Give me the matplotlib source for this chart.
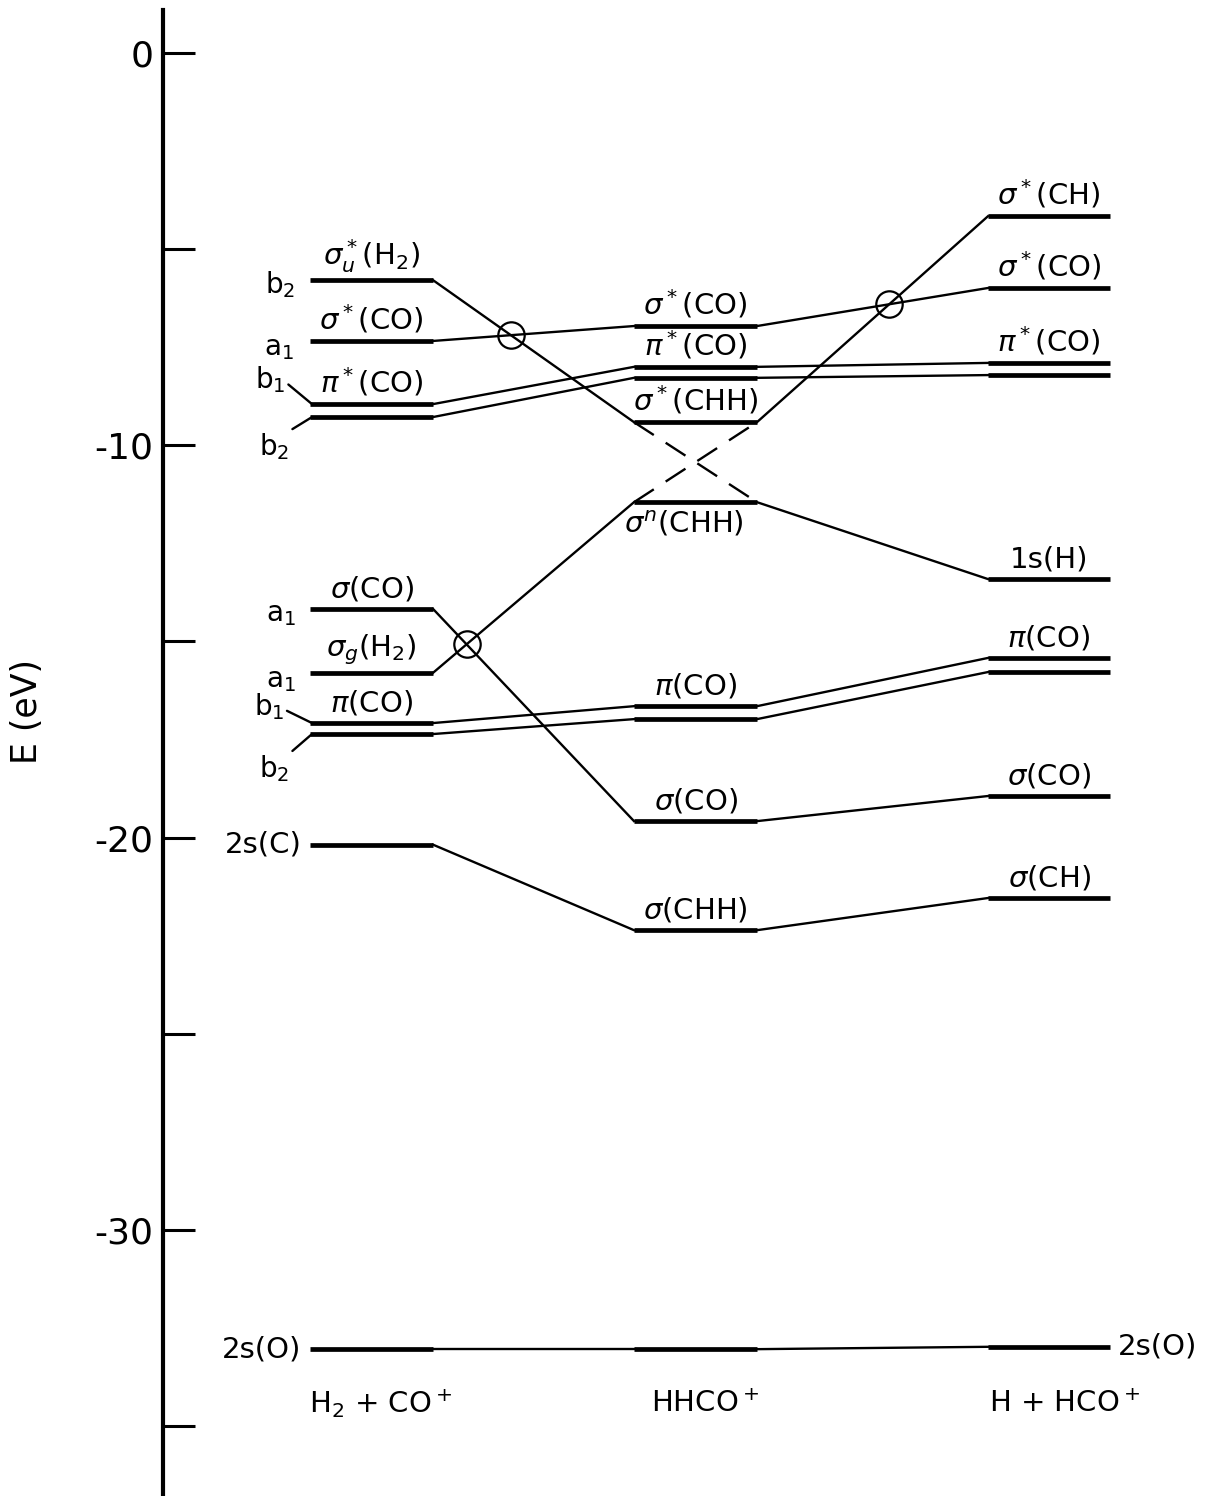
import matplotlib
matplotlib.use("Agg")
import matplotlib.pyplot as plt

# stages along the reaction path
stages = [r"H$_2$ + CO$^+$", r"HHCO$^+$", r"H + HCO$^+$"]

# orbital energies (eV), top to bottom in each column
left_E = [-5.79, -7.34, -8.95, -9.28, -14.17, -15.80, -17.08, -17.36, -20.18, -33.04]
left_lab = [r"$\sigma^*_u$(H$_2$)", r"$\sigma^*$(CO)", r"$\pi^*$(CO)", "",
            r"$\sigma$(CO)", r"$\sigma_g$(H$_2$)", r"$\pi$(CO)", "", "2s(C)", "2s(O)"]
left_sym = [r"b$_2$", r"a$_1$", r"b$_1$", r"b$_2$", r"a$_1$", r"a$_1$", r"b$_1$", r"b$_2$", "", ""]

mid_E = [-6.96, -8.00, -8.28, -9.41, -11.45, -16.65, -16.98, -19.58, -22.36, -33.04]
mid_lab = [r"$\sigma^*$(CO)", r"$\pi^*$(CO)", "", r"$\sigma^*$(CHH)", r"$\sigma^n$(CHH)",
           r"$\pi$(CO)", "", r"$\sigma$(CO)", r"$\sigma$(CHH)", ""]

right_E = [-4.16, -5.99, -7.90, -8.21, -13.41, -15.42, -15.78, -18.94, -21.54, -32.98]
right_lab = [r"$\sigma^*$(CH)", r"$\sigma^*$(CO)", r"$\pi^*$(CO)", "", "1s(H)",
             r"$\pi$(CO)", "", r"$\sigma$(CO)", r"$\sigma$(CH)", "2s(O)"]

# correlation lines (index in one column -> index in next column)
left_to_mid = [(0, 3), (1, 0), (2, 1), (3, 2), (4, 7), (5, 4), (6, 5), (7, 6), (8, 8), (9, 9)]
mid_to_right = [(0, 1), (1, 2), (2, 3), (3, 0), (4, 4), (5, 5), (6, 6), (7, 7), (8, 8), (9, 9)]
mid_dashed = [(3, 4), (4, 3)]  # avoided crossing inside HHCO+
# crossings marked with a circle: (which gap, connection a, connection b)
crossings = [(0, 0, 1), (0, 4, 5), (1, 0, 3)]

# ---- layout (pixel-like x units, energy on y) ----
PX = 39.23          # pixels per eV
Y0 = 53             # pixel row of E = 0
cols_x = [(310, 433), (634, 757), (988, 1110)]
LW_LEVEL, LW_LINK = 3.4, 1.7
FS = 21

fig = plt.figure(figsize=(12.21, 14.96), dpi=100)
ax = fig.add_axes([0, 0, 1, 1])
ax.set_xlim(0, 1221)
ax.set_ylim(-(1496 - Y0) / PX, Y0 / PX)
for s in ("top", "right", "bottom"):
    ax.spines[s].set_visible(False)
ax.spines["left"].set_position(("data", 163))
ax.spines["left"].set_bounds(-(1496 - Y0) / PX, (Y0 - 10) / PX)
ax.spines["left"].set_linewidth(3)
ax.set_xticks([])
ax.set_yticks([0, -10, -20, -30])
ax.set_yticklabels(["0", "-10", "-20", "-30"], fontsize=26)
ax.set_yticks([-5, -15, -25, -35], minor=True)
ax.tick_params(axis="y", which="both", direction="in", length=23, width=2.2, pad=7)
ax.set_ylabel("E (eV)", fontsize=25)
ax.yaxis.set_label_coords(0.036, 1 - 711 / 1496)

columns = [left_E, mid_E, right_E]
labels = [left_lab, mid_lab, right_lab]

# levels
for (x0, x1), E in zip(cols_x, columns):
    ax.hlines(E, x0, x1, color="black", lw=LW_LEVEL)

# correlation lines
gaps = [left_to_mid, mid_to_right]
segs = []
for g, links in enumerate(gaps):
    xa, xb = cols_x[g][1], cols_x[g + 1][0]
    Ea, Eb = columns[g], columns[g + 1]
    row = []
    for i, j in links:
        ax.plot([xa, xb], [Ea[i], Eb[j]], color="black", lw=LW_LINK)
        row.append(((xa, Ea[i]), (xb, Eb[j])))
    segs.append(row)

for i, j in mid_dashed:
    ax.plot([cols_x[1][0], cols_x[1][1]], [mid_E[i], mid_E[j]], color="black",
            lw=LW_LINK, dashes=(10, 6))

# circles at crossings
for g, a, b in crossings:
    (x1, y1), (x2, y2) = segs[g][a]
    (x3, y3), (x4, y4) = segs[g][b]
    d = (x1 - x2) * (y3 - y4) - (y1 - y2) * (x3 - x4)
    t = ((x1 - x3) * (y3 - y4) - (y1 - y3) * (x3 - x4)) / d
    ax.plot(x1 + t * (x2 - x1), y1 + t * (y2 - y1), "o", ms=19, mfc="none",
            mec="black", mew=1.6)

# level labels
side_labels = {"2s(C)", "2s(O)"}
for c, ((x0, x1), E, labs) in enumerate(zip(cols_x, columns, labels)):
    for e, lab in zip(E, labs):
        if not lab:
            continue
        if lab in side_labels:
            if c == 0:
                ax.annotate(lab, (x0, e), xytext=(-6, 0), textcoords="offset points",
                            ha="right", va="center", fontsize=FS)
            else:
                ax.annotate(lab, (x1, e), xytext=(6, 0), textcoords="offset points",
                            ha="left", va="center", fontsize=FS)
        elif lab.startswith(r"$\sigma^n$"):
            ax.annotate(lab, ((x0 + x1) / 2 - 12, e), xytext=(0, -5),
                        textcoords="offset points", ha="center", va="top", fontsize=FS)
        else:
            ax.annotate(lab, ((x0 + x1) / 2, e), xytext=(0, 4),
                        textcoords="offset points", ha="center", va="bottom", fontsize=FS)

# symmetry labels on the left, some with short leader lines
sym_off = [(-23, -3), (-24, -5), (-30, 18), (-27, -21),
           (-22, -4), (-22, -5), (-31, 12), (-27, -25), None, None]
leader_from = [None, None, (1, 0.4), (1, 1), None, None, (1, 0.4), (1, 1), None, None]
for e, s, off, rel in zip(left_E, left_sym, sym_off, leader_from):
    if not s:
        continue
    kw = {}
    if rel:
        kw["arrowprops"] = dict(arrowstyle="-", lw=LW_LINK, color="black",
                                shrinkA=0, shrinkB=0, relpos=rel)
    ax.annotate(s, (cols_x[0][0] + 2, e), xytext=off, textcoords="offset points",
                ha="center", va="center", fontsize=20, **kw)

# stage names
stage_x = [381, 705, 1065]
for x, s in zip(stage_x, stages):
    ax.text(x, -(1404 - Y0) / PX, s, ha="center", va="center", fontsize=21)

fig.savefig("out.png", dpi=100, facecolor="white")
